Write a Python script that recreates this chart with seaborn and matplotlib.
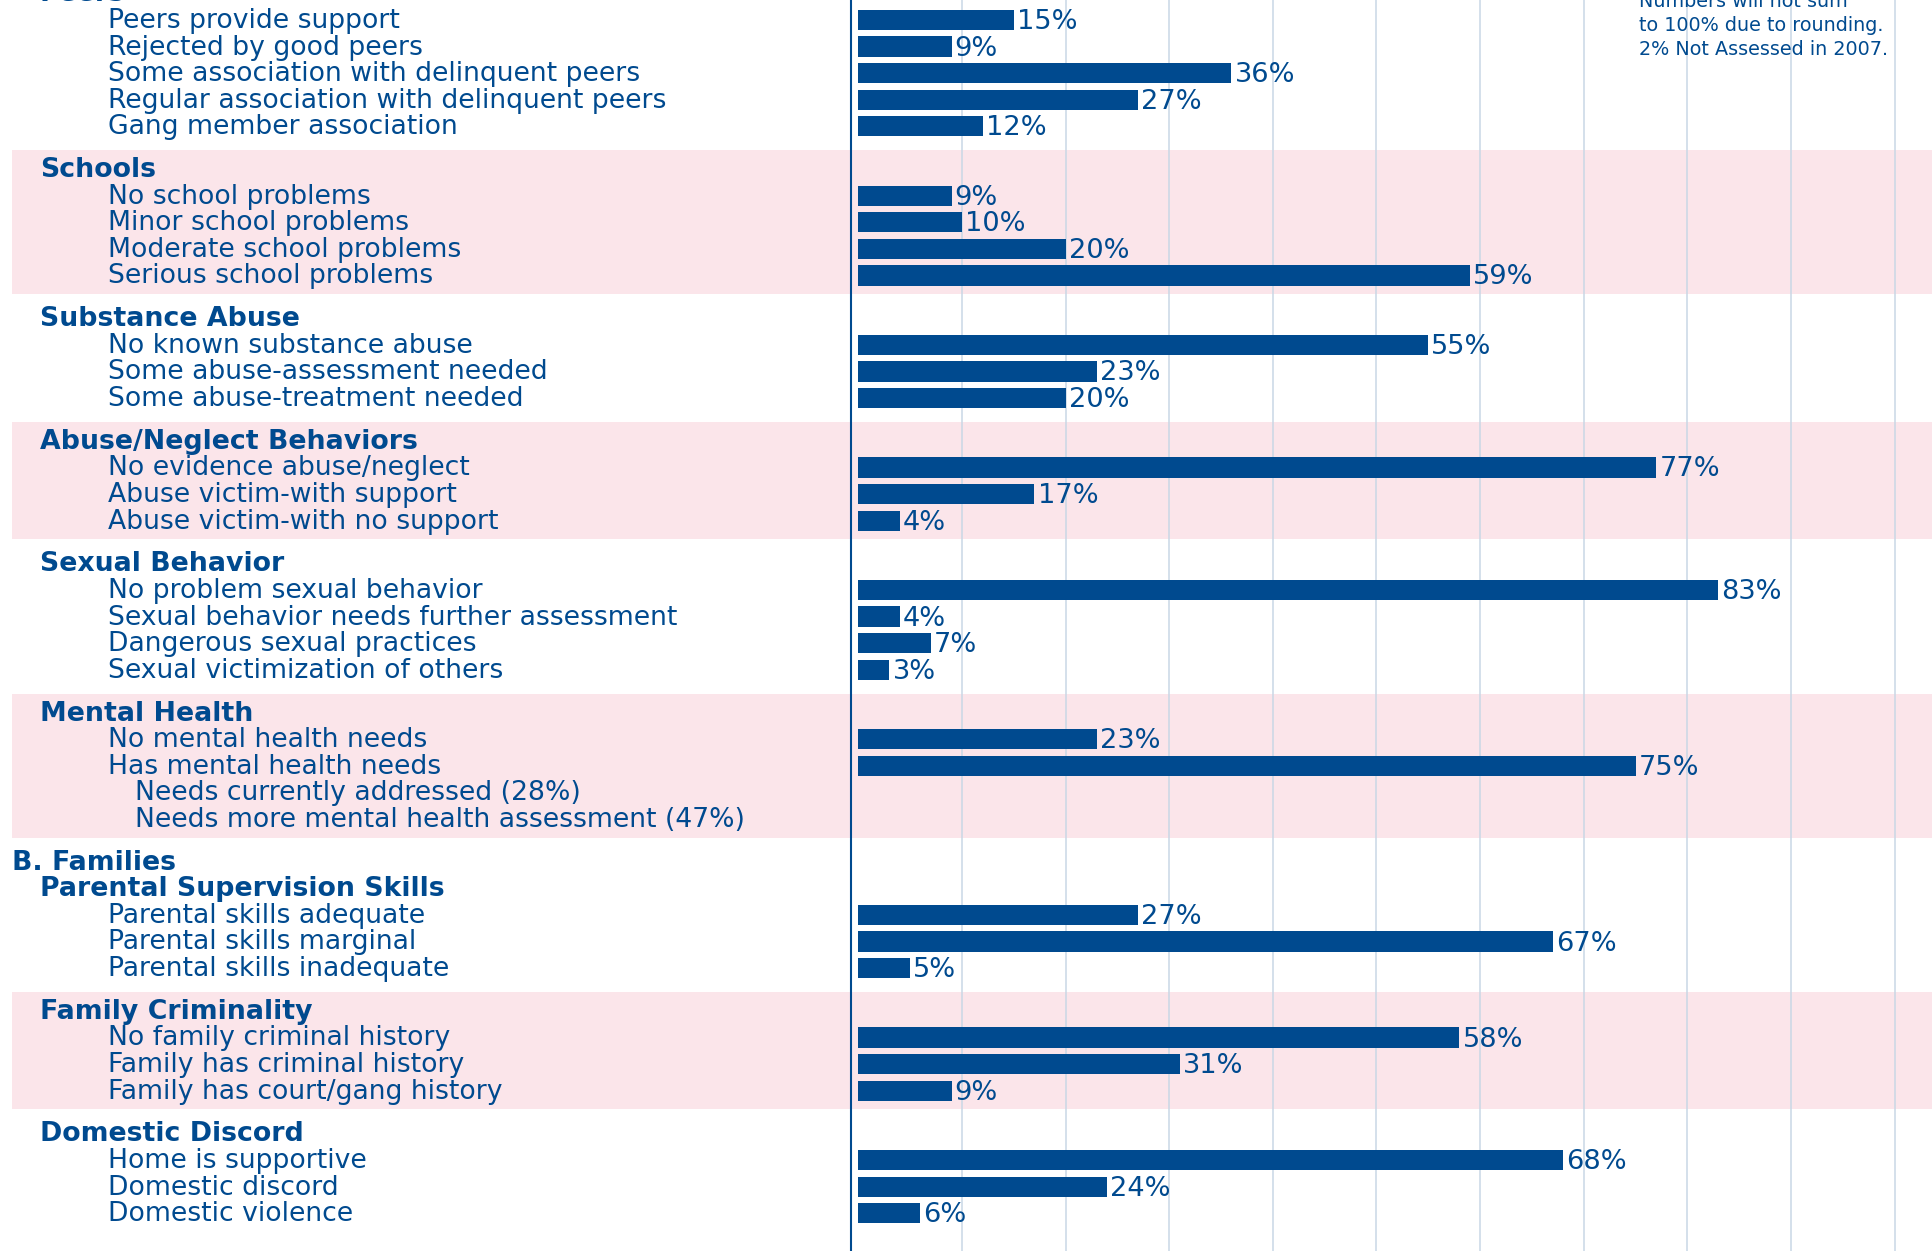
import pandas as pd
import seaborn as sns
import matplotlib.pyplot as plt
from matplotlib.patches import Rectangle
from matplotlib.transforms import blended_transform_factory

# --- chart data ---
group_titles = ["Peers", "Schools", "Substance Abuse", "Abuse/Neglect Behaviors",
                "Sexual Behavior", "Mental Health", "Parental Supervision Skills",
                "Family Criminality", "Domestic Discord"]

peer_labels = ["Peers provide support", "Rejected by good peers",
               "Some association with delinquent peers",
               "Regular association with delinquent peers", "Gang member association"]
peer_values = [15, 9, 36, 27, 12]

school_labels = ["No school problems", "Minor school problems",
                 "Moderate school problems", "Serious school problems"]
school_values = [9, 10, 20, 59]

substance_labels = ["No known substance abuse", "Some abuse-assessment needed",
                    "Some abuse-treatment needed"]
substance_values = [55, 23, 20]

abuse_labels = ["No evidence abuse/neglect", "Abuse victim-with support",
                "Abuse victim-with no support"]
abuse_values = [77, 17, 4]

sexual_labels = ["No problem sexual behavior", "Sexual behavior needs further assessment",
                 "Dangerous sexual practices", "Sexual victimization of others"]
sexual_values = [83, 4, 7, 3]

mental_labels = ["No mental health needs", "Has mental health needs"]
mental_values = [23, 75]
mental_sub_labels = ["Needs currently addressed (28%)",
                     "Needs more mental health assessment (47%)"]

parental_labels = ["Parental skills adequate", "Parental skills marginal",
                   "Parental skills inadequate"]
parental_values = [27, 67, 5]

criminality_labels = ["No family criminal history", "Family has criminal history",
                      "Family has court/gang history"]
criminality_values = [58, 31, 9]

discord_labels = ["Home is supportive", "Domestic discord", "Domestic violence"]
discord_values = [68, 24, 6]

section_label = "B. Families"
note_lines = ["Numbers will not sum", "to 100% due to rounding.",
              "2% Not Assessed in 2007."]

groups = list(zip(group_titles,
                  [peer_labels, school_labels, substance_labels, abuse_labels,
                   sexual_labels, mental_labels, parental_labels,
                   criminality_labels, discord_labels],
                  [peer_values, school_values, substance_values, abuse_values,
                   sexual_values, mental_values, parental_values,
                   criminality_values, discord_values]))

BLUE = "#004a8f"
PINK = "#fbe5ea"
GRID = "#c9d7e6"
W, H = 1933, 1251

# --- lay out rows: one unit per line, extra gap between groups ---
GAP = 0.61
rows, bars, bands = [], [], []
u = 0.0
for i, (title, labels, values) in enumerate(groups):
    if i > 0:
        u += 1 + GAP
    if title == "Parental Supervision Skills":
        rows.append((u, section_label, "section"))
        u += 1
    start = u
    rows.append((u, title, "title"))
    for lab, val in zip(labels, values):
        u += 1
        rows.append((u, lab, "item"))
        bars.append({"pos": u, "pct": val})
    if title == "Mental Health":
        for lab in mental_sub_labels:
            u += 1
            rows.append((u, lab, "sub"))
    if i % 2 == 1:
        bands.append((start - 0.7, u + 0.7))

df = pd.DataFrame(bars)

sns.set_style("white")
plt.rcParams["font.family"] = ["DejaVu Sans"]

fig = plt.figure(figsize=(W / 100, H / 100), dpi=100)
ax_left = 851 / W
ax = fig.add_axes([ax_left, 0, 1 - ax_left, 1])

sns.barplot(data=df, x="pct", y="pos", orient="h", native_scale=True,
            color=BLUE, saturation=1, width=0.76, errorbar=None,
            linewidth=0, ax=ax)

for _, r in df.iterrows():
    ax.text(r["pct"] + 0.3, r["pos"] + 0.34, f"{int(r['pct'])}%", ha="left",
            va="baseline", fontsize=19.6, color=BLUE)

ax.set_xlim(-0.7, 103.7)
ax.set_ylim(u + 1.42, 0.25)
ax.set_xticks(range(10, 101, 10))
ax.set_yticks([])
ax.tick_params(length=0, labelbottom=False, labelleft=False)
ax.grid(axis="x", color=GRID, linewidth=1.1)
ax.set_axisbelow(True)
ax.set_xlabel("")
ax.set_ylabel("")
for side in ["top", "right", "bottom"]:
    ax.spines[side].set_visible(False)
ax.spines["left"].set_color(BLUE)
ax.spines["left"].set_linewidth(1.5)
ax.spines["left"].set_zorder(3)

# pink bands run across labels and plot
trans = blended_transform_factory(fig.transFigure, ax.transData)
for top, bot in bands:
    ax.add_patch(Rectangle((12 / W, top), 1 - 12 / W, bot - top, transform=trans,
                           facecolor=PINK, edgecolor="none", zorder=0, clip_on=False))

indent = {"section": 12, "title": 40, "item": 108, "sub": 135}
for pos, text, kind in rows:
    bold = kind in ("section", "title")
    ax.text(indent[kind] / W, pos + 0.3, text, transform=trans, ha="left",
            va="baseline", fontsize=19.3 if bold else 19.2, color=BLUE,
            fontweight="bold" if bold else "normal", clip_on=False)

for k, line in enumerate(note_lines):
    fig.text(1639 / W, 1 - (7 + 24 * k) / H, line, ha="left", va="baseline",
             fontsize=13.8, color=BLUE)

fig.savefig("out.png", dpi=100)
